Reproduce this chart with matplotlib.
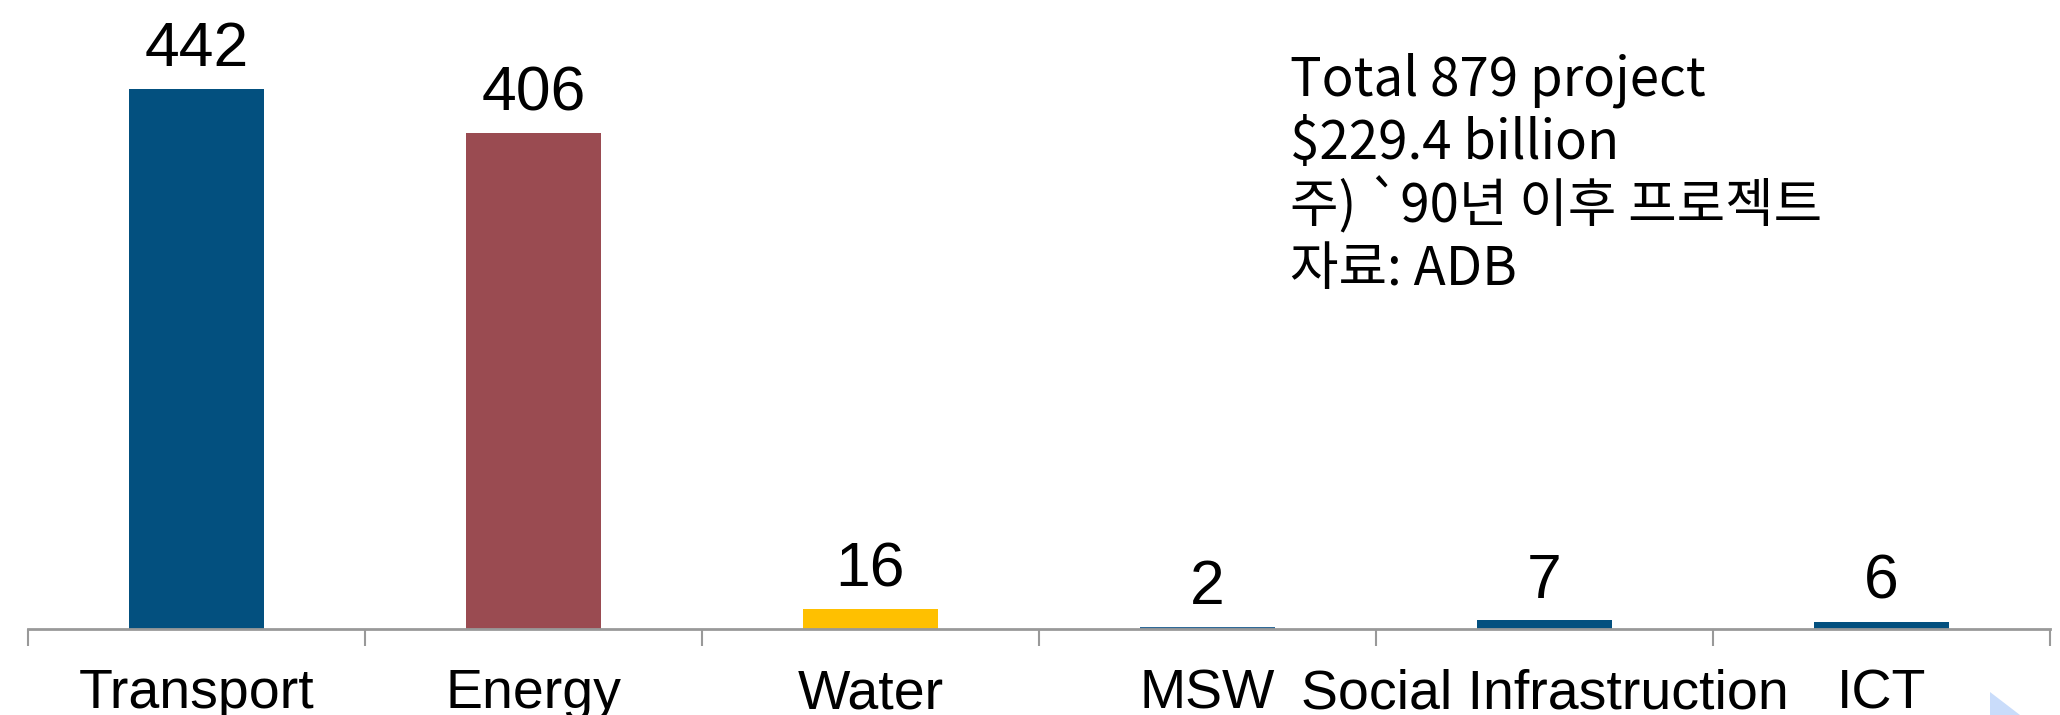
import matplotlib.pyplot as plt
from matplotlib.patches import Polygon

# ADB 인프라 프로젝트 수 (부문별)
categories = ['Transport', 'Energy', 'Water', 'MSW', 'Social Infrastruction', 'ICT']
projects = [442, 406, 16, 2, 7, 6]
bar_colors = ['#03507F', '#9A4B51', '#FFC000', '#2F6A98', '#03507F', '#03507F']
note_lines = ['Total 879 project', '$229.4 billion', '주) `90년 이후 프로젝트', '자료: ADB']

W, H = 2060, 715

fig = plt.figure(figsize=(W / 100, H / 100), dpi=100)
ax = fig.add_axes([28 / W, (H - 629) / H, (2050 - 28) / W, 629 / H])

x = range(len(categories))
bars = ax.bar(x, projects, width=0.4, color=bar_colors, zorder=2)
ax.set_xlim(-0.5, len(categories) - 0.5)
ax.set_ylim(0, 515)

for rect, v in zip(bars, projects):
    ax.annotate(str(v), (rect.get_x() + rect.get_width() / 2, v),
                xytext=(0, 7), textcoords='offset points',
                ha='center', va='bottom', fontsize=45, family='Liberation Sans')

# 축: 아래쪽 선과 구분 눈금만
for s in ['top', 'right', 'left']:
    ax.spines[s].set_visible(False)
ax.spines['bottom'].set_color('#999999')
ax.spines['bottom'].set_linewidth(2)
ax.set_yticks([])
ax.set_xticks([i - 0.5 for i in range(len(categories) + 1)])
ax.set_xticklabels([])
ax.tick_params(axis='x', length=12, width=1.5, color='#999999')

for i, name in enumerate(categories):
    ax.text(i, -32, name, ha='center', va='top', fontsize=40, family='Liberation Sans')

# 주석 텍스트
for k, line in enumerate(note_lines):
    fig.text(1290 / W, 1 - (96 + 63 * k) / H, line, ha='left', va='baseline',
             fontsize=38, family=['Noto Sans CJK KR', 'DejaVu Sans'])

# 오른쪽 아래 장식 삼각형
tri = Polygon([(1990 / W, 1 - 692 / H), (1990 / W, 0), (2020 / W, 0)],
              closed=True, transform=fig.transFigure, color='#C9DCFA', lw=0)
fig.patches.append(tri)

fig.savefig('out.png', dpi=100)
